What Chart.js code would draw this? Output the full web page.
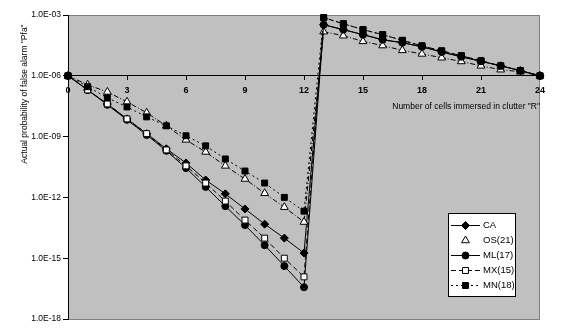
<!DOCTYPE html>
<html>
<head>
<meta charset="utf-8">
<style>
  html, body { margin: 0; padding: 0; background: #fff; }
</style>
</head>
<body>
<canvas id="chart" width="561" height="331"></canvas>
<script src="https://cdn.jsdelivr.net/npm/chart.js"></script>
<script>
// number of cells immersed in clutter
const cells = [0,1,2,3,4,5,6,7,8,9,10,11,12,13,14,15,16,17,18,19,20,21,22,23,24];

// Pfa
const caVals = [1e-6,2.0e-7,4.1e-8,7.5e-9,1.4e-9,2.5e-10,5.0e-11,7.2e-12,1.5e-12,2.7e-13,4.8e-14,9.8e-15,1.8e-15,
                3.3e-4,1.9e-4,1.07e-4,6.0e-5,4.3e-5,2.7e-5,1.5e-5,8.7e-6,5.2e-6,3.1e-6,1.8e-6,1e-6];
const osVals = [1e-6,3.6e-7,1.6e-7,5.2e-8,1.5e-8,3.4e-9,6.9e-10,1.75e-10,3.6e-11,8.1e-12,1.6e-12,3.3e-13,6.1e-14,
                1.5e-4,9.5e-5,5.0e-5,3.1e-5,1.8e-5,1.2e-5,7.8e-6,5.1e-6,3.1e-6,2.0e-6,1.6e-6,1e-6];
const mlVals = [1e-6,2.0e-7,3.7e-8,6.7e-9,1.2e-9,2.0e-10,2.8e-11,3.3e-12,3.7e-13,4.3e-14,4.4e-15,4.1e-16,3.7e-17,
                3.3e-4,1.9e-4,1.07e-4,6.0e-5,4.3e-5,2.7e-5,1.5e-5,8.7e-6,5.2e-6,3.1e-6,1.8e-6,1e-6];
const mxVals = [1e-6,2.0e-7,4.1e-8,7.5e-9,1.4e-9,2.2e-10,3.6e-11,5.1e-12,6.6e-13,7.6e-14,9.8e-15,1.0e-15,1.2e-16,
                7.4e-4,3.7e-4,1.9e-4,1.07e-4,5.6e-5,3.0e-5,1.7e-5,9.8e-6,5.5e-6,3.1e-6,1.8e-6,1e-6];
const mnVals = [1e-6,2.9e-7,8.2e-8,2.9e-8,9.4e-9,3.4e-9,1.1e-9,3.5e-10,7.9e-11,2.0e-11,5.1e-12,1.0e-12,2.1e-13,
                7.4e-4,3.7e-4,1.9e-4,1.07e-4,5.6e-5,3.0e-5,1.7e-5,9.8e-6,5.5e-6,3.1e-6,1.8e-6,1e-6];

const yTicks = [1e-18,1e-15,1e-12,1e-9,1e-6,1e-3];
const xTicks = [0,3,6,9,12,15,18,21,24];

const FONT = '"Liberation Sans", Arial, sans-serif';

function pts(vals) {
  return vals.map((v, i) => ({x: cells[i], y: v}));
}

function series(label, vals, style, fill, radius, dash, legendLine, order) {
  return {
    label: label,
    data: pts(vals),
    borderColor: '#000',
    borderWidth: 1,
    borderDash: dash,
    pointStyle: style,
    pointRadius: radius,
    pointBackgroundColor: fill,
    pointBorderColor: '#000',
    pointBorderWidth: 1,
    tension: 0,
    clip: 6,
    order: order,   // later series drawn on top, like the original
    legendLine: legendLine
  };
}

const datasets = [
  series('CA', caVals, 'rectRot', '#000', 4, [], true, 5),
  series('OS(21)', osVals, 'triangle', '#fff', 4.5, [5,2,1,2], false, 4),
  series('ML(17)', mlVals, 'circle', '#000', 3.5, [], true, 3),
  series('MX(15)', mxVals, 'rect', '#fff', 4.2, [5,3], true, 2),
  series('MN(18)', mnVals, 'rect', '#000', 4.2, [2,3], true, 1)
];

function expLabel(v) {
  const e = Math.round(Math.log10(v));
  return '1.0E' + (e < 0 ? '-' : '+') + String(Math.abs(e)).padStart(2, '0');
}

const decor = {
  id: 'decor',
  beforeDraw(chart) {
    const {ctx, chartArea: a} = chart;
    ctx.save();
    ctx.fillStyle = '#c0c0c0';
    ctx.fillRect(a.left, a.top, a.right - a.left, a.bottom - a.top);
    ctx.strokeStyle = '#808080';
    ctx.lineWidth = 1;
    ctx.strokeRect(a.left + 0.5, a.top + 0.5, a.right - a.left - 1, a.bottom - a.top);
    ctx.restore();
  },
  afterDraw(chart) {
    const {ctx, chartArea: a} = chart;
    const y0 = chart.scales.y.getPixelForValue(1e-6);
    ctx.save();
    ctx.fillStyle = '#000';
    // axis titles
    ctx.font = '8.5px ' + FONT;
    ctx.textBaseline = 'middle';
    ctx.textAlign = 'right';
    ctx.fillText('Number of cells immersed in clutter "R"', a.right, y0 + 31);
    ctx.translate(a.left - 43, a.top + 79);
    ctx.rotate(-Math.PI / 2);
    ctx.textAlign = 'center';
    ctx.fillText('Actual probability of false alarm "Pfa"', 0, 0);
    ctx.restore();

    // legend box
    const w = 67, h = 83;
    const left = a.right - 25 - w, top = a.bottom - 23 - h;
    ctx.save();
    ctx.fillStyle = '#fff';
    ctx.fillRect(left, top, w, h);
    ctx.strokeStyle = '#000';
    ctx.lineWidth = 1;
    ctx.strokeRect(left + 0.5, top + 0.5, w, h);
    ctx.font = '9.5px ' + FONT;
    ctx.textBaseline = 'middle';
    ctx.textAlign = 'left';
    chart.data.datasets.forEach((ds, i) => {
      const yy = Math.round(top + 12 + i * 15) + 0.5;
      if (ds.legendLine) {
        ctx.setLineDash(ds.borderDash);
        ctx.beginPath();
        ctx.moveTo(left + 3, yy);
        ctx.lineTo(left + 32, yy);
        ctx.stroke();
        ctx.setLineDash([]);
      }
      ctx.fillStyle = ds.pointBackgroundColor;
      ctx.strokeStyle = '#000';
      Chart.helpers.drawPoint(ctx, {pointStyle: ds.pointStyle, radius: ds.pointRadius, rotation: 0, borderWidth: 1}, left + 17.5, yy);
      ctx.fillStyle = '#000';
      ctx.fillText(ds.label, left + 35, yy);
    });
    ctx.restore();
  }
};

new Chart(document.getElementById('chart'), {
  type: 'line',
  data: {datasets: datasets},
  options: {
    responsive: false,
    animation: false,
    layout: {padding: {left: 0, top: 15, right: 21, bottom: 12}},
    plugins: {legend: {display: false}, tooltip: {enabled: false}},
    scales: {
      x: {
        type: 'linear',
        min: 0,
        max: 24,
        position: {y: 1e-6},
        afterBuildTicks: s => { s.ticks = xTicks.map(v => ({value: v})); },
        ticks: {color: '#000', padding: 5, font: {family: FONT, size: 9, weight: 'bold'}, maxRotation: 0},
        grid: {display: true, drawOnChartArea: false, tickLength: 4, color: '#000'},
        border: {display: true, color: '#000', width: 1}
      },
      y: {
        type: 'logarithmic',
        min: 1e-18,
        max: 1e-3,
        afterBuildTicks: s => { s.ticks = yTicks.map(v => ({value: v})); },
        afterFit: s => { s.width = 68; },
        ticks: {color: '#000', padding: 2, font: {family: FONT, size: 8.5}, callback: v => expLabel(v)},
        grid: {display: true, drawOnChartArea: false, tickLength: 5, color: '#000'},
        border: {display: true, color: '#000', width: 1}
      }
    }
  },
  plugins: [decor]
});
</script>
</body>
</html>
